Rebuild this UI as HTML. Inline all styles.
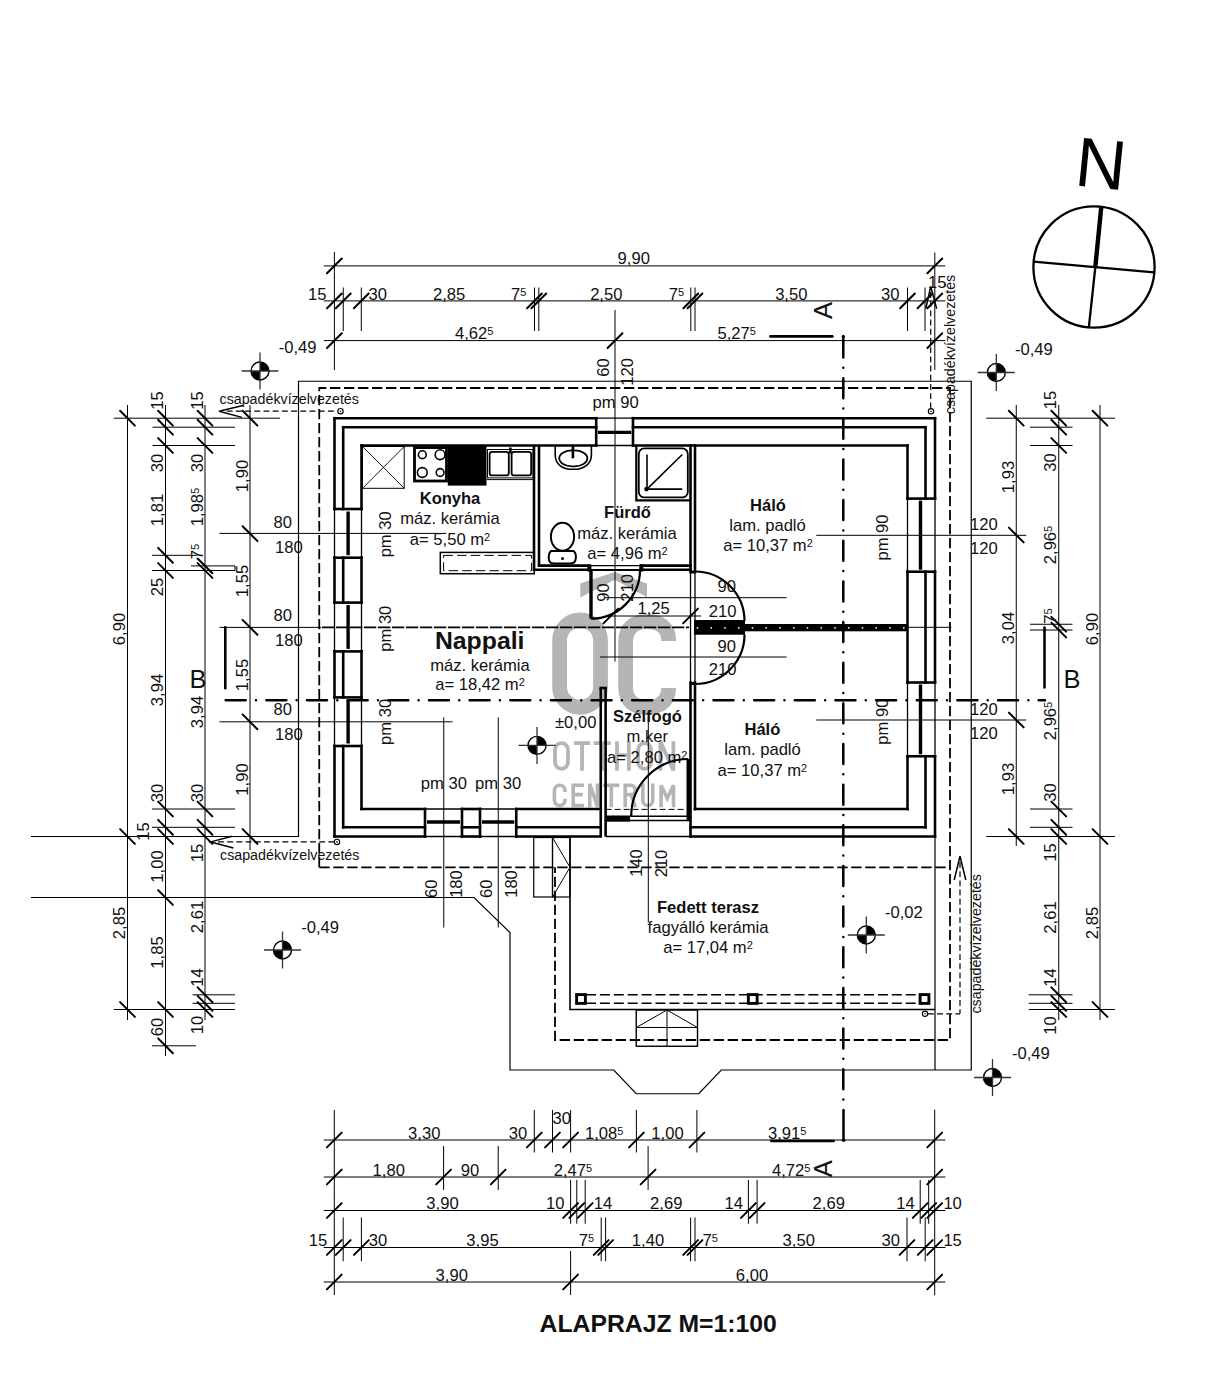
<!DOCTYPE html><html><head><meta charset="utf-8"><style>html,body{margin:0;padding:0;background:#fff;}svg{display:block;}text{font-family:"Liberation Sans",sans-serif;}</style></head><body>
<svg width="1228" height="1374" viewBox="0 0 1228 1374">
<rect x="0" y="0" width="1228" height="1374" fill="#fff"/>
<rect x="559.6" y="620.0" width="40.9" height="87.3" rx="20.4" ry="20.4" fill="none" stroke="#b5b5b5" stroke-width="14.8"/>
<path d="M 668.6 641 L 668.6 641 L 668.6 640 C 668.6 627 659 621.5 647 621.5 C 634 621.5 625.6 628 625.6 642 L 625.6 687 C 625.6 701 634 707.5 647 707.5 C 659 707.5 668.6 702 668.6 688" fill="none" stroke="#b5b5b5" stroke-width="14.8"/>
<polygon points="580.3,583.5 614.7,572.1 647,583.5 647,597.2 614.7,579.8 580.3,597.5" fill="#b5b5b5"/>
<path d="M 555.0 749.6999999999999 A 6.5 6.5 0 0 1 568.0 749.6999999999999 L 568.0 762.3000000000001 A 6.5 6.5 0 0 1 555.0 762.3000000000001 Z" fill="none" stroke="#b5b5b5" stroke-width="3.8" stroke-linejoin="miter"/>
<path d="M 573.9 743.1999999999999 L 590.2 743.1999999999999 M 582.05 743.1999999999999 L 582.05 770.7" fill="none" stroke="#b5b5b5" stroke-width="3.8" stroke-linejoin="miter"/>
<path d="M 593.6 743.1999999999999 L 610.7 743.1999999999999 M 602.1500000000001 743.1999999999999 L 602.1500000000001 770.7" fill="none" stroke="#b5b5b5" stroke-width="3.8" stroke-linejoin="miter"/>
<path d="M 617.0 741.3 L 617.0 770.7 M 628.9 741.3 L 628.9 770.7 M 617.0 755.118 L 628.9 755.118" fill="none" stroke="#b5b5b5" stroke-width="3.8" stroke-linejoin="miter"/>
<path d="M 638.1 749.6999999999999 A 6.5 6.5 0 0 1 651.1 749.6999999999999 L 651.1 762.3000000000001 A 6.5 6.5 0 0 1 638.1 762.3000000000001 Z" fill="none" stroke="#b5b5b5" stroke-width="3.8" stroke-linejoin="miter"/>
<path d="M 660.4 770.7 L 660.4 741.5999999999999 L 673.4 770.4000000000001 L 673.4 741.3" fill="none" stroke="#b5b5b5" stroke-width="3.8" stroke-linejoin="miter"/>
<path d="M 565.0 792.0 L 565.0 790.5 A 5.300000000000011 5.300000000000011 0 0 0 554.4 790.5 L 554.4 800.2 A 5.300000000000011 5.300000000000011 0 0 0 565.0 800.2 L 565.0 798.7" fill="none" stroke="#b5b5b5" stroke-width="3.6" stroke-linejoin="miter"/>
<path d="M 583.9 785.1999999999999 L 573.1999999999999 785.1999999999999 L 573.1999999999999 805.5 L 583.9 805.5 M 573.1999999999999 794.6329999999999 L 582.6999999999999 794.6329999999999" fill="none" stroke="#b5b5b5" stroke-width="3.6" stroke-linejoin="miter"/>
<path d="M 589.6999999999999 807.3 L 589.6999999999999 783.6999999999999 L 597.5 807.0 L 597.5 783.4" fill="none" stroke="#b5b5b5" stroke-width="3.6" stroke-linejoin="miter"/>
<path d="M 603.2 785.1999999999999 L 619.4 785.1999999999999 M 611.3 785.1999999999999 L 611.3 807.3" fill="none" stroke="#b5b5b5" stroke-width="3.6" stroke-linejoin="miter"/>
<path d="M 625.1999999999999 807.3 L 625.1999999999999 785.1999999999999 L 630.5835000000001 785.1999999999999 A 4.716499999999996 4.716499999999996 0 0 1 630.5835000000001 794.6329999999999 L 625.1999999999999 794.6329999999999 M 631.25 794.6329999999999 L 635.3000000000001 807.3" fill="none" stroke="#b5b5b5" stroke-width="3.6" stroke-linejoin="miter"/>
<path d="M 642.8 783.4 L 642.8 800.55 A 4.9500000000000455 4.9500000000000455 0 0 0 652.7 800.55 L 652.7 783.4" fill="none" stroke="#b5b5b5" stroke-width="3.6" stroke-linejoin="miter"/>
<path d="M 661.0999999999999 807.3 L 661.0999999999999 785.1999999999999 L 667.3 798.218 L 673.5 785.1999999999999 L 673.5 807.3" fill="none" stroke="#b5b5b5" stroke-width="3.6" stroke-linejoin="miter"/>
<polyline points="31.00,897.50 474.00,897.50 510.00,932.50 510.00,1070.00 613.75,1070.00 636.25,1093.75 698.75,1093.75 721.25,1070.00 971.25,1070.00 971.25,381.25 298.50,381.25 298.50,836.50 31.00,836.50" fill="none" stroke="#000" stroke-width="1.2" />
<polyline points="319.25,867.30 319.25,388.00 950.00,388.00 950.00,1040.00 555.00,1040.00 555.00,867.30" fill="none" stroke="#000" stroke-width="1.8" stroke-dasharray="10.4 3.6"/>
<line x1="319.25" y1="867.30" x2="950.00" y2="867.30" stroke="#000" stroke-width="1.8" stroke-dasharray="10.4 3.6"/>
<polyline points="570.00,837.50 570.00,1009.50 935.00,1009.50" fill="none" stroke="#000" stroke-width="1.6" />
<line x1="935.00" y1="836.50" x2="935.00" y2="1070.00" stroke="#000" stroke-width="1.2" />
<rect x="533.75" y="837.50" width="18.75" height="59.50" rx="0" fill="none" stroke="#000" stroke-width="1.2" />
<rect x="552.50" y="837.50" width="17.50" height="59.50" rx="0" fill="none" stroke="#000" stroke-width="1.2" />
<polyline points="552.50,837.50 570.00,867.30 552.50,897.00" fill="none" stroke="#000" stroke-width="1.0" />
<rect x="636.25" y="1010.00" width="61.25" height="36.25" rx="0" fill="none" stroke="#000" stroke-width="1.4" />
<line x1="636.25" y1="1027.50" x2="697.50" y2="1027.50" stroke="#000" stroke-width="1.2" />
<line x1="667.00" y1="1010.00" x2="667.00" y2="1046.25" stroke="#000" stroke-width="1.0" />
<polyline points="636.25,1027.50 667.00,1010.00 697.50,1027.50" fill="none" stroke="#000" stroke-width="1.0" />
<rect x="576.60" y="994.60" width="8.80" height="8.80" rx="0" fill="none" stroke="#000" stroke-width="2.9" />
<rect x="748.35" y="994.60" width="8.80" height="8.80" rx="0" fill="none" stroke="#000" stroke-width="2.9" />
<rect x="920.10" y="994.60" width="8.80" height="8.80" rx="0" fill="none" stroke="#000" stroke-width="2.9" />
<line x1="586.00" y1="994.80" x2="919.50" y2="994.80" stroke="#000" stroke-width="1.6" stroke-dasharray="10 3.9"/>
<line x1="586.00" y1="1003.20" x2="919.50" y2="1003.20" stroke="#000" stroke-width="1.6" stroke-dasharray="10 3.9"/>
<line x1="334.50" y1="418.20" x2="334.50" y2="509.00" stroke="#000" stroke-width="2.6" stroke-linecap="square"/>
<line x1="334.50" y1="557.70" x2="334.50" y2="602.60" stroke="#000" stroke-width="2.6" stroke-linecap="square"/>
<line x1="334.50" y1="651.40" x2="334.50" y2="697.40" stroke="#000" stroke-width="2.6" stroke-linecap="square"/>
<line x1="334.50" y1="746.00" x2="334.50" y2="836.50" stroke="#000" stroke-width="2.6" stroke-linecap="square"/>
<line x1="343.20" y1="427.20" x2="343.20" y2="509.00" stroke="#000" stroke-width="2.6" stroke-linecap="square"/>
<line x1="343.20" y1="557.70" x2="343.20" y2="602.60" stroke="#000" stroke-width="2.6" stroke-linecap="square"/>
<line x1="343.20" y1="651.40" x2="343.20" y2="697.40" stroke="#000" stroke-width="2.6" stroke-linecap="square"/>
<line x1="343.20" y1="746.00" x2="343.20" y2="827.30" stroke="#000" stroke-width="2.6" stroke-linecap="square"/>
<line x1="361.50" y1="445.50" x2="361.50" y2="509.00" stroke="#000" stroke-width="2.6" stroke-linecap="square"/>
<line x1="361.50" y1="557.70" x2="361.50" y2="602.60" stroke="#000" stroke-width="2.6" stroke-linecap="square"/>
<line x1="361.50" y1="651.40" x2="361.50" y2="697.40" stroke="#000" stroke-width="2.6" stroke-linecap="square"/>
<line x1="361.50" y1="746.00" x2="361.50" y2="809.00" stroke="#000" stroke-width="2.6" stroke-linecap="square"/>
<line x1="334.50" y1="509.00" x2="334.50" y2="557.70" stroke="#000" stroke-width="1.3" />
<line x1="361.50" y1="509.00" x2="361.50" y2="557.70" stroke="#000" stroke-width="1.3" />
<line x1="348.10" y1="511.50" x2="348.10" y2="555.20" stroke="#000" stroke-width="3.4" />
<line x1="334.50" y1="602.60" x2="334.50" y2="651.40" stroke="#000" stroke-width="1.3" />
<line x1="361.50" y1="602.60" x2="361.50" y2="651.40" stroke="#000" stroke-width="1.3" />
<line x1="348.10" y1="605.10" x2="348.10" y2="648.90" stroke="#000" stroke-width="3.4" />
<line x1="334.50" y1="697.40" x2="334.50" y2="746.00" stroke="#000" stroke-width="1.3" />
<line x1="361.50" y1="697.40" x2="361.50" y2="746.00" stroke="#000" stroke-width="1.3" />
<line x1="348.10" y1="699.90" x2="348.10" y2="743.50" stroke="#000" stroke-width="3.4" />
<line x1="334.50" y1="509.00" x2="361.50" y2="509.00" stroke="#000" stroke-width="2.6" stroke-linecap="square"/>
<line x1="334.50" y1="557.70" x2="361.50" y2="557.70" stroke="#000" stroke-width="2.6" stroke-linecap="square"/>
<line x1="334.50" y1="602.60" x2="361.50" y2="602.60" stroke="#000" stroke-width="2.6" stroke-linecap="square"/>
<line x1="334.50" y1="651.40" x2="361.50" y2="651.40" stroke="#000" stroke-width="2.6" stroke-linecap="square"/>
<line x1="334.50" y1="697.40" x2="361.50" y2="697.40" stroke="#000" stroke-width="2.6" stroke-linecap="square"/>
<line x1="334.50" y1="746.00" x2="361.50" y2="746.00" stroke="#000" stroke-width="2.6" stroke-linecap="square"/>
<line x1="334.50" y1="418.20" x2="596.20" y2="418.20" stroke="#000" stroke-width="2.6" stroke-linecap="square"/>
<line x1="633.00" y1="418.20" x2="935.00" y2="418.20" stroke="#000" stroke-width="2.6" stroke-linecap="square"/>
<line x1="343.20" y1="427.20" x2="596.20" y2="427.20" stroke="#000" stroke-width="2.6" stroke-linecap="square"/>
<line x1="633.00" y1="427.20" x2="925.50" y2="427.20" stroke="#000" stroke-width="2.6" stroke-linecap="square"/>
<line x1="361.50" y1="445.50" x2="596.20" y2="445.50" stroke="#000" stroke-width="2.6" stroke-linecap="square"/>
<line x1="633.00" y1="445.50" x2="907.50" y2="445.50" stroke="#000" stroke-width="2.6" stroke-linecap="square"/>
<line x1="596.20" y1="418.20" x2="633.00" y2="418.20" stroke="#000" stroke-width="1.3" />
<line x1="596.20" y1="445.50" x2="633.00" y2="445.50" stroke="#000" stroke-width="1.3" />
<line x1="598.00" y1="432.40" x2="631.30" y2="432.40" stroke="#000" stroke-width="3.4" />
<line x1="596.20" y1="418.20" x2="596.20" y2="445.50" stroke="#000" stroke-width="2.6" stroke-linecap="square"/>
<line x1="633.00" y1="418.20" x2="633.00" y2="445.50" stroke="#000" stroke-width="2.6" stroke-linecap="square"/>
<line x1="935.00" y1="418.20" x2="935.00" y2="498.60" stroke="#000" stroke-width="2.6" stroke-linecap="square"/>
<line x1="935.00" y1="571.70" x2="935.00" y2="682.50" stroke="#000" stroke-width="2.6" stroke-linecap="square"/>
<line x1="935.00" y1="756.25" x2="935.00" y2="836.50" stroke="#000" stroke-width="2.6" stroke-linecap="square"/>
<line x1="925.50" y1="427.20" x2="925.50" y2="498.60" stroke="#000" stroke-width="2.6" stroke-linecap="square"/>
<line x1="925.50" y1="571.70" x2="925.50" y2="682.50" stroke="#000" stroke-width="2.6" stroke-linecap="square"/>
<line x1="925.50" y1="756.25" x2="925.50" y2="827.30" stroke="#000" stroke-width="2.6" stroke-linecap="square"/>
<line x1="907.50" y1="445.50" x2="907.50" y2="498.60" stroke="#000" stroke-width="2.6" stroke-linecap="square"/>
<line x1="907.50" y1="571.70" x2="907.50" y2="682.50" stroke="#000" stroke-width="2.6" stroke-linecap="square"/>
<line x1="907.50" y1="756.25" x2="907.50" y2="809.00" stroke="#000" stroke-width="2.6" stroke-linecap="square"/>
<line x1="935.00" y1="498.60" x2="935.00" y2="571.70" stroke="#000" stroke-width="1.3" />
<line x1="907.50" y1="498.60" x2="907.50" y2="571.70" stroke="#000" stroke-width="1.3" />
<line x1="920.50" y1="500.60" x2="920.50" y2="569.70" stroke="#000" stroke-width="3.4" />
<line x1="935.00" y1="682.50" x2="935.00" y2="756.25" stroke="#000" stroke-width="1.3" />
<line x1="907.50" y1="682.50" x2="907.50" y2="756.25" stroke="#000" stroke-width="1.3" />
<line x1="920.50" y1="684.50" x2="920.50" y2="754.25" stroke="#000" stroke-width="3.4" />
<line x1="907.50" y1="498.60" x2="935.00" y2="498.60" stroke="#000" stroke-width="2.6" stroke-linecap="square"/>
<line x1="907.50" y1="571.70" x2="935.00" y2="571.70" stroke="#000" stroke-width="2.6" stroke-linecap="square"/>
<line x1="907.50" y1="682.50" x2="935.00" y2="682.50" stroke="#000" stroke-width="2.6" stroke-linecap="square"/>
<line x1="907.50" y1="756.25" x2="935.00" y2="756.25" stroke="#000" stroke-width="2.6" stroke-linecap="square"/>
<line x1="334.50" y1="836.50" x2="425.00" y2="836.50" stroke="#000" stroke-width="2.6" stroke-linecap="square"/>
<line x1="462.00" y1="836.50" x2="480.00" y2="836.50" stroke="#000" stroke-width="2.6" stroke-linecap="square"/>
<line x1="516.25" y1="836.50" x2="600.75" y2="836.50" stroke="#000" stroke-width="2.6" stroke-linecap="square"/>
<line x1="690.50" y1="836.50" x2="935.00" y2="836.50" stroke="#000" stroke-width="2.6" stroke-linecap="square"/>
<line x1="343.20" y1="827.30" x2="425.00" y2="827.30" stroke="#000" stroke-width="2.6" stroke-linecap="square"/>
<line x1="462.00" y1="827.30" x2="480.00" y2="827.30" stroke="#000" stroke-width="2.6" stroke-linecap="square"/>
<line x1="516.25" y1="827.30" x2="600.75" y2="827.30" stroke="#000" stroke-width="2.6" stroke-linecap="square"/>
<line x1="690.50" y1="827.30" x2="925.50" y2="827.30" stroke="#000" stroke-width="2.6" stroke-linecap="square"/>
<line x1="361.50" y1="809.00" x2="425.00" y2="809.00" stroke="#000" stroke-width="2.6" stroke-linecap="square"/>
<line x1="462.00" y1="809.00" x2="480.00" y2="809.00" stroke="#000" stroke-width="2.6" stroke-linecap="square"/>
<line x1="516.25" y1="809.00" x2="600.75" y2="809.00" stroke="#000" stroke-width="2.6" stroke-linecap="square"/>
<line x1="695.00" y1="809.00" x2="907.50" y2="809.00" stroke="#000" stroke-width="2.6" stroke-linecap="square"/>
<line x1="425.00" y1="836.50" x2="462.00" y2="836.50" stroke="#000" stroke-width="1.3" />
<line x1="425.00" y1="809.00" x2="462.00" y2="809.00" stroke="#000" stroke-width="1.3" />
<line x1="427.00" y1="822.00" x2="460.00" y2="822.00" stroke="#000" stroke-width="3.4" />
<line x1="480.00" y1="836.50" x2="516.25" y2="836.50" stroke="#000" stroke-width="1.3" />
<line x1="480.00" y1="809.00" x2="516.25" y2="809.00" stroke="#000" stroke-width="1.3" />
<line x1="482.00" y1="822.00" x2="514.25" y2="822.00" stroke="#000" stroke-width="3.4" />
<line x1="425.00" y1="809.00" x2="425.00" y2="836.50" stroke="#000" stroke-width="2.6" stroke-linecap="square"/>
<line x1="462.00" y1="809.00" x2="462.00" y2="836.50" stroke="#000" stroke-width="2.6" stroke-linecap="square"/>
<line x1="480.00" y1="809.00" x2="480.00" y2="836.50" stroke="#000" stroke-width="2.6" stroke-linecap="square"/>
<line x1="516.25" y1="809.00" x2="516.25" y2="836.50" stroke="#000" stroke-width="2.6" stroke-linecap="square"/>
<line x1="600.75" y1="688.00" x2="600.75" y2="836.50" stroke="#000" stroke-width="2.6" />
<line x1="605.60" y1="688.00" x2="605.60" y2="836.50" stroke="#000" stroke-width="2.6" />
<line x1="600.75" y1="688.00" x2="605.60" y2="688.00" stroke="#000" stroke-width="2.6" stroke-linecap="square"/>
<line x1="605.60" y1="809.40" x2="690.70" y2="809.40" stroke="#000" stroke-width="1.0" stroke-dasharray="6 3"/>
<line x1="605.60" y1="816.20" x2="686.80" y2="816.20" stroke="#000" stroke-width="1.5" />
<line x1="605.60" y1="820.60" x2="689.70" y2="820.60" stroke="#000" stroke-width="1.5" />
<rect x="606.60" y="816.20" width="23.40" height="5.40" rx="0" fill="#000" stroke="#000" stroke-width="0" />
<line x1="605.60" y1="836.50" x2="690.70" y2="836.50" stroke="#000" stroke-width="1.3" />
<line x1="688.20" y1="759.00" x2="688.20" y2="821.00" stroke="#000" stroke-width="3.4" />
<path d="M 688.2 759 A 57 57 0 0 0 631.2 816" fill="none" stroke="#000" stroke-width="2.2"/>
<line x1="534.00" y1="445.50" x2="534.00" y2="569.70" stroke="#000" stroke-width="2.6" />
<line x1="539.00" y1="445.50" x2="539.00" y2="565.60" stroke="#000" stroke-width="2.6" />
<line x1="539.00" y1="565.60" x2="588.50" y2="565.60" stroke="#000" stroke-width="2.6" stroke-linecap="square"/>
<line x1="641.00" y1="565.60" x2="690.50" y2="565.60" stroke="#000" stroke-width="2.6" stroke-linecap="square"/>
<line x1="534.00" y1="569.70" x2="588.50" y2="569.70" stroke="#000" stroke-width="2.6" stroke-linecap="square"/>
<line x1="641.00" y1="569.70" x2="690.50" y2="569.70" stroke="#000" stroke-width="2.6" stroke-linecap="square"/>
<line x1="588.50" y1="565.60" x2="641.00" y2="565.60" stroke="#000" stroke-width="1.3" />
<line x1="588.50" y1="569.90" x2="641.00" y2="569.90" stroke="#000" stroke-width="2.0" />
<line x1="589.40" y1="564.40" x2="589.40" y2="571.60" stroke="#000" stroke-width="4.0" />
<line x1="641.30" y1="564.40" x2="641.30" y2="571.60" stroke="#000" stroke-width="4.0" />
<line x1="591.00" y1="570.40" x2="591.00" y2="618.60" stroke="#000" stroke-width="3.4" />
<path d="M 591 618.7 A 49 49 0 0 0 640 569.7" fill="none" stroke="#000" stroke-width="2.2"/>
<line x1="690.50" y1="445.50" x2="690.50" y2="572.00" stroke="#000" stroke-width="2.6" stroke-linecap="square"/>
<line x1="690.50" y1="682.50" x2="690.50" y2="836.50" stroke="#000" stroke-width="2.6" stroke-linecap="square"/>
<line x1="695.00" y1="445.50" x2="695.00" y2="572.00" stroke="#000" stroke-width="2.6" stroke-linecap="square"/>
<line x1="695.00" y1="682.50" x2="695.00" y2="809.00" stroke="#000" stroke-width="2.6" stroke-linecap="square"/>
<line x1="690.50" y1="572.00" x2="690.50" y2="682.50" stroke="#000" stroke-width="1.3" />
<line x1="695.00" y1="572.00" x2="695.00" y2="682.50" stroke="#000" stroke-width="1.3" />
<line x1="690.50" y1="572.00" x2="695.00" y2="572.00" stroke="#000" stroke-width="3" />
<line x1="690.50" y1="683.50" x2="695.00" y2="683.50" stroke="#000" stroke-width="3" />
<rect x="694.00" y="620.00" width="51.00" height="14.70" rx="0" fill="#000" stroke="#000" stroke-width="0" />
<rect x="694.00" y="624.00" width="213.50" height="7.30" rx="0" fill="#000" stroke="#000" stroke-width="0" />
<circle cx="697.5" cy="627.8" r="0.9" fill="#fff"/>
<circle cx="711.2" cy="627.8" r="0.9" fill="#fff"/>
<circle cx="725.0" cy="627.8" r="0.9" fill="#fff"/>
<circle cx="738.8" cy="627.8" r="0.9" fill="#fff"/>
<circle cx="752.5" cy="627.8" r="0.9" fill="#fff"/>
<circle cx="766.2" cy="627.8" r="0.9" fill="#fff"/>
<circle cx="780.0" cy="627.8" r="0.9" fill="#fff"/>
<circle cx="793.8" cy="627.8" r="0.9" fill="#fff"/>
<circle cx="807.5" cy="627.8" r="0.9" fill="#fff"/>
<circle cx="821.2" cy="627.8" r="0.9" fill="#fff"/>
<circle cx="835.0" cy="627.8" r="0.9" fill="#fff"/>
<circle cx="848.8" cy="627.8" r="0.9" fill="#fff"/>
<circle cx="862.5" cy="627.8" r="0.9" fill="#fff"/>
<circle cx="876.2" cy="627.8" r="0.9" fill="#fff"/>
<circle cx="890.0" cy="627.8" r="0.9" fill="#fff"/>
<circle cx="903.8" cy="627.8" r="0.9" fill="#fff"/>
<path d="M 695 571.5 A 49.5 49.5 0 0 1 744.5 621" fill="none" stroke="#000" stroke-width="2.2"/>
<path d="M 744.5 634.5 A 49.5 49.5 0 0 1 695 684" fill="none" stroke="#000" stroke-width="2.2"/>
<rect x="362.50" y="446.50" width="41.70" height="41.80" rx="0" fill="none" stroke="#000" stroke-width="1.0" />
<line x1="362.50" y1="446.50" x2="404.20" y2="488.30" stroke="#000" stroke-width="0.9" />
<line x1="404.20" y1="446.50" x2="362.50" y2="488.30" stroke="#000" stroke-width="0.9" />
<rect x="414.50" y="447.60" width="32.00" height="33.40" rx="0" fill="none" stroke="#000" stroke-width="2.8" />
<circle cx="422.3" cy="454.7" r="3.9" fill="none" stroke="#000" stroke-width="1.6"/>
<circle cx="440.1" cy="454.7" r="4.9" fill="none" stroke="#000" stroke-width="1.6"/>
<circle cx="422.3" cy="472.5" r="4.9" fill="none" stroke="#000" stroke-width="1.6"/>
<circle cx="440.1" cy="472.5" r="3.9" fill="none" stroke="#000" stroke-width="1.6"/>
<rect x="447.80" y="445.40" width="38.70" height="40.20" rx="0" fill="#000" stroke="#000" stroke-width="0" />
<rect x="487.50" y="449.50" width="45.50" height="28.40" rx="0" fill="none" stroke="#000" stroke-width="1.0" />
<rect x="489.60" y="451.80" width="19.20" height="23.60" rx="2.5" fill="none" stroke="#000" stroke-width="1.8" />
<rect x="511.60" y="451.80" width="19.60" height="23.60" rx="2.5" fill="none" stroke="#000" stroke-width="1.8" />
<line x1="510.40" y1="447.50" x2="510.40" y2="453.50" stroke="#000" stroke-width="2.6" />
<line x1="486.50" y1="479.60" x2="533.00" y2="479.60" stroke="#000" stroke-width="1.0" />
<rect x="440.30" y="552.40" width="94.00" height="21.30" rx="0" fill="none" stroke="#000" stroke-width="1.5" />
<rect x="443.6" y="555.4" width="88" height="15.3" fill="none" stroke="#000" stroke-width="1.0" stroke-dasharray="9.4 4.2"/>
<path d="M 555.2 446.2 L 555.2 455 C 555.2 464 562 469.3 573 469.3 C 584 469.3 591.4 464 591.4 455 L 591.4 446.2" fill="none" stroke="#000" stroke-width="1.6"/>
<rect x="559.2" y="450.4" width="28.2" height="15.9" rx="13" ry="8" fill="none" stroke="#000" stroke-width="1.8"/>
<line x1="572.90" y1="446.00" x2="572.90" y2="457.30" stroke="#000" stroke-width="2.6" stroke-linecap="round"/>
<polyline points="636.30,446.00 636.30,500.30 690.50,500.30" fill="none" stroke="#000" stroke-width="2.2" />
<rect x="638.80" y="448.40" width="49.00" height="49.00" rx="5.5" fill="none" stroke="#000" stroke-width="1.8" />
<line x1="647.00" y1="454.50" x2="647.00" y2="489.10" stroke="#000" stroke-width="1.6" />
<line x1="647.00" y1="489.10" x2="682.30" y2="489.10" stroke="#000" stroke-width="1.6" />
<line x1="647.00" y1="489.10" x2="682.30" y2="454.50" stroke="#000" stroke-width="1.6" />
<circle cx="646.5" cy="489.1" r="2.3" fill="#000"/>
<ellipse cx="562.5" cy="536.8" rx="11.6" ry="14.0" fill="none" stroke="#000" stroke-width="2.0"/>
<path d="M 551 551 L 573.5 551 C 576 553 576.5 556 575.5 560 C 575 562.5 573 563.4 570 563.4 L 554 563.4 C 551 563.4 549.5 562.5 549 560 C 548.3 556 548.8 553 551 551 Z" fill="#fff" stroke="#000" stroke-width="2.0"/>
<circle cx="562.5" cy="558.4" r="1.5" fill="#000"/>
<line x1="323.75" y1="265.90" x2="945.40" y2="265.90" stroke="#000" stroke-width="1.0" />
<line x1="327.00" y1="273.30" x2="341.80" y2="258.50" stroke="#000" stroke-width="2.0" stroke-linecap="round"/>
<line x1="927.40" y1="273.30" x2="942.20" y2="258.50" stroke="#000" stroke-width="2.0" stroke-linecap="round"/>
<line x1="334.40" y1="252.00" x2="334.40" y2="370.00" stroke="#000" stroke-width="1.0" />
<line x1="934.80" y1="252.50" x2="934.80" y2="370.00" stroke="#000" stroke-width="1.0" />
<line x1="323.75" y1="300.90" x2="945.40" y2="300.90" stroke="#000" stroke-width="1.0" />
<line x1="327.00" y1="308.30" x2="341.80" y2="293.50" stroke="#000" stroke-width="2.0" stroke-linecap="round"/>
<line x1="335.85" y1="308.30" x2="350.65" y2="293.50" stroke="#000" stroke-width="2.0" stroke-linecap="round"/>
<line x1="353.90" y1="308.30" x2="368.70" y2="293.50" stroke="#000" stroke-width="2.0" stroke-linecap="round"/>
<line x1="527.10" y1="308.30" x2="541.90" y2="293.50" stroke="#000" stroke-width="2.0" stroke-linecap="round"/>
<line x1="531.40" y1="308.30" x2="546.20" y2="293.50" stroke="#000" stroke-width="2.0" stroke-linecap="round"/>
<line x1="683.40" y1="308.30" x2="698.20" y2="293.50" stroke="#000" stroke-width="2.0" stroke-linecap="round"/>
<line x1="687.60" y1="308.30" x2="702.40" y2="293.50" stroke="#000" stroke-width="2.0" stroke-linecap="round"/>
<line x1="900.10" y1="308.30" x2="914.90" y2="293.50" stroke="#000" stroke-width="2.0" stroke-linecap="round"/>
<line x1="917.60" y1="308.30" x2="932.40" y2="293.50" stroke="#000" stroke-width="2.0" stroke-linecap="round"/>
<line x1="927.40" y1="308.30" x2="942.20" y2="293.50" stroke="#000" stroke-width="2.0" stroke-linecap="round"/>
<line x1="343.25" y1="287.50" x2="343.25" y2="331.00" stroke="#000" stroke-width="1.0" />
<line x1="361.30" y1="287.50" x2="361.30" y2="331.00" stroke="#000" stroke-width="1.0" />
<line x1="534.50" y1="287.50" x2="534.50" y2="331.00" stroke="#000" stroke-width="1.0" />
<line x1="538.80" y1="287.50" x2="538.80" y2="331.00" stroke="#000" stroke-width="1.0" />
<line x1="690.80" y1="287.50" x2="690.80" y2="331.00" stroke="#000" stroke-width="1.0" />
<line x1="695.00" y1="287.50" x2="695.00" y2="331.00" stroke="#000" stroke-width="1.0" />
<line x1="907.50" y1="287.50" x2="907.50" y2="331.00" stroke="#000" stroke-width="1.0" />
<line x1="925.00" y1="287.50" x2="925.00" y2="331.00" stroke="#000" stroke-width="1.0" />
<line x1="323.75" y1="340.60" x2="945.40" y2="340.60" stroke="#000" stroke-width="1.0" />
<line x1="327.00" y1="348.00" x2="341.80" y2="333.20" stroke="#000" stroke-width="2.0" stroke-linecap="round"/>
<line x1="607.60" y1="348.00" x2="622.40" y2="333.20" stroke="#000" stroke-width="2.0" stroke-linecap="round"/>
<line x1="927.40" y1="348.00" x2="942.20" y2="333.20" stroke="#000" stroke-width="2.0" stroke-linecap="round"/>
<line x1="615.00" y1="310.00" x2="615.00" y2="661.50" stroke="#000" stroke-width="1.0" />
<line x1="127.50" y1="405.00" x2="127.50" y2="1020.00" stroke="#000" stroke-width="1.0" />
<line x1="165.50" y1="405.00" x2="165.50" y2="1056.00" stroke="#000" stroke-width="1.0" />
<line x1="205.00" y1="405.00" x2="205.00" y2="1020.00" stroke="#000" stroke-width="1.0" />
<line x1="250.00" y1="405.00" x2="250.00" y2="850.00" stroke="#000" stroke-width="1.0" />
<line x1="120.10" y1="410.80" x2="134.90" y2="425.60" stroke="#000" stroke-width="2.0" stroke-linecap="round"/>
<line x1="120.10" y1="829.10" x2="134.90" y2="843.90" stroke="#000" stroke-width="2.0" stroke-linecap="round"/>
<line x1="120.10" y1="1002.10" x2="134.90" y2="1016.90" stroke="#000" stroke-width="2.0" stroke-linecap="round"/>
<line x1="158.10" y1="410.80" x2="172.90" y2="425.60" stroke="#000" stroke-width="2.0" stroke-linecap="round"/>
<line x1="158.10" y1="419.80" x2="172.90" y2="434.60" stroke="#000" stroke-width="2.0" stroke-linecap="round"/>
<line x1="158.10" y1="438.10" x2="172.90" y2="452.90" stroke="#000" stroke-width="2.0" stroke-linecap="round"/>
<line x1="158.10" y1="547.90" x2="172.90" y2="562.70" stroke="#000" stroke-width="2.0" stroke-linecap="round"/>
<line x1="158.10" y1="563.10" x2="172.90" y2="577.90" stroke="#000" stroke-width="2.0" stroke-linecap="round"/>
<line x1="158.10" y1="801.60" x2="172.90" y2="816.40" stroke="#000" stroke-width="2.0" stroke-linecap="round"/>
<line x1="158.10" y1="819.90" x2="172.90" y2="834.70" stroke="#000" stroke-width="2.0" stroke-linecap="round"/>
<line x1="158.10" y1="829.10" x2="172.90" y2="843.90" stroke="#000" stroke-width="2.0" stroke-linecap="round"/>
<line x1="158.10" y1="890.10" x2="172.90" y2="904.90" stroke="#000" stroke-width="2.0" stroke-linecap="round"/>
<line x1="158.10" y1="1002.10" x2="172.90" y2="1016.90" stroke="#000" stroke-width="2.0" stroke-linecap="round"/>
<line x1="158.10" y1="1038.40" x2="172.90" y2="1053.20" stroke="#000" stroke-width="2.0" stroke-linecap="round"/>
<line x1="197.60" y1="410.80" x2="212.40" y2="425.60" stroke="#000" stroke-width="2.0" stroke-linecap="round"/>
<line x1="197.60" y1="419.80" x2="212.40" y2="434.60" stroke="#000" stroke-width="2.0" stroke-linecap="round"/>
<line x1="197.60" y1="438.10" x2="212.40" y2="452.90" stroke="#000" stroke-width="2.0" stroke-linecap="round"/>
<line x1="197.60" y1="558.50" x2="212.40" y2="573.30" stroke="#000" stroke-width="2.0" stroke-linecap="round"/>
<line x1="197.60" y1="563.10" x2="212.40" y2="577.90" stroke="#000" stroke-width="2.0" stroke-linecap="round"/>
<line x1="197.60" y1="801.60" x2="212.40" y2="816.40" stroke="#000" stroke-width="2.0" stroke-linecap="round"/>
<line x1="197.60" y1="819.90" x2="212.40" y2="834.70" stroke="#000" stroke-width="2.0" stroke-linecap="round"/>
<line x1="197.60" y1="829.10" x2="212.40" y2="843.90" stroke="#000" stroke-width="2.0" stroke-linecap="round"/>
<line x1="197.60" y1="987.40" x2="212.40" y2="1002.20" stroke="#000" stroke-width="2.0" stroke-linecap="round"/>
<line x1="197.60" y1="995.90" x2="212.40" y2="1010.70" stroke="#000" stroke-width="2.0" stroke-linecap="round"/>
<line x1="197.60" y1="1002.10" x2="212.40" y2="1016.90" stroke="#000" stroke-width="2.0" stroke-linecap="round"/>
<line x1="242.60" y1="410.80" x2="257.40" y2="425.60" stroke="#000" stroke-width="2.0" stroke-linecap="round"/>
<line x1="242.60" y1="526.20" x2="257.40" y2="541.00" stroke="#000" stroke-width="2.0" stroke-linecap="round"/>
<line x1="242.60" y1="619.90" x2="257.40" y2="634.70" stroke="#000" stroke-width="2.0" stroke-linecap="round"/>
<line x1="242.60" y1="714.40" x2="257.40" y2="729.20" stroke="#000" stroke-width="2.0" stroke-linecap="round"/>
<line x1="242.60" y1="829.10" x2="257.40" y2="843.90" stroke="#000" stroke-width="2.0" stroke-linecap="round"/>
<line x1="113.75" y1="418.20" x2="280.00" y2="418.20" stroke="#000" stroke-width="1.0" />
<line x1="152.50" y1="427.20" x2="235.00" y2="427.20" stroke="#000" stroke-width="1.0" />
<line x1="152.50" y1="445.50" x2="235.00" y2="445.50" stroke="#000" stroke-width="1.0" />
<line x1="219.50" y1="533.40" x2="446.40" y2="533.40" stroke="#000" stroke-width="1.0" />
<line x1="152.00" y1="555.30" x2="197.50" y2="555.30" stroke="#000" stroke-width="1.0" />
<line x1="191.00" y1="565.90" x2="235.00" y2="565.90" stroke="#000" stroke-width="1.0" />
<line x1="235.00" y1="565.90" x2="235.00" y2="570.50" stroke="#000" stroke-width="1.0" />
<line x1="152.00" y1="570.50" x2="235.00" y2="570.50" stroke="#000" stroke-width="1.0" />
<line x1="219.50" y1="627.40" x2="321.00" y2="627.40" stroke="#000" stroke-width="1.0" />
<line x1="321.00" y1="627.40" x2="689.00" y2="627.40" stroke="#000" stroke-width="1.6" stroke-dasharray="12.4 1.6" stroke-dashoffset="13.1"/>
<line x1="219.50" y1="721.80" x2="452.50" y2="721.80" stroke="#000" stroke-width="1.0" />
<line x1="152.00" y1="809.00" x2="235.00" y2="809.00" stroke="#000" stroke-width="1.0" />
<line x1="152.00" y1="827.30" x2="235.00" y2="827.30" stroke="#000" stroke-width="1.0" />
<line x1="192.50" y1="994.80" x2="235.00" y2="994.80" stroke="#000" stroke-width="1.0" />
<line x1="192.50" y1="1003.30" x2="235.00" y2="1003.30" stroke="#000" stroke-width="1.0" />
<line x1="113.75" y1="1009.50" x2="235.00" y2="1009.50" stroke="#000" stroke-width="1.0" />
<line x1="152.00" y1="1045.80" x2="196.00" y2="1045.80" stroke="#000" stroke-width="1.0" />
<line x1="443.75" y1="717.50" x2="443.75" y2="927.50" stroke="#000" stroke-width="1.0" />
<line x1="498.25" y1="717.50" x2="498.25" y2="927.50" stroke="#000" stroke-width="1.0" />
<line x1="648.30" y1="717.00" x2="648.30" y2="922.50" stroke="#000" stroke-width="1.0" />
<line x1="1016.25" y1="405.00" x2="1016.25" y2="846.00" stroke="#000" stroke-width="1.0" />
<line x1="1058.75" y1="405.00" x2="1058.75" y2="1020.00" stroke="#000" stroke-width="1.0" />
<line x1="1100.00" y1="405.00" x2="1100.00" y2="1020.00" stroke="#000" stroke-width="1.0" />
<line x1="1008.85" y1="410.80" x2="1023.65" y2="425.60" stroke="#000" stroke-width="2.0" stroke-linecap="round"/>
<line x1="1008.85" y1="527.60" x2="1023.65" y2="542.40" stroke="#000" stroke-width="2.0" stroke-linecap="round"/>
<line x1="1008.85" y1="712.60" x2="1023.65" y2="727.40" stroke="#000" stroke-width="2.0" stroke-linecap="round"/>
<line x1="1008.85" y1="829.10" x2="1023.65" y2="843.90" stroke="#000" stroke-width="2.0" stroke-linecap="round"/>
<line x1="1051.35" y1="410.80" x2="1066.15" y2="425.60" stroke="#000" stroke-width="2.0" stroke-linecap="round"/>
<line x1="1051.35" y1="419.80" x2="1066.15" y2="434.60" stroke="#000" stroke-width="2.0" stroke-linecap="round"/>
<line x1="1051.35" y1="438.10" x2="1066.15" y2="452.90" stroke="#000" stroke-width="2.0" stroke-linecap="round"/>
<line x1="1051.35" y1="616.85" x2="1066.15" y2="631.65" stroke="#000" stroke-width="2.0" stroke-linecap="round"/>
<line x1="1051.35" y1="622.60" x2="1066.15" y2="637.40" stroke="#000" stroke-width="2.0" stroke-linecap="round"/>
<line x1="1051.35" y1="801.60" x2="1066.15" y2="816.40" stroke="#000" stroke-width="2.0" stroke-linecap="round"/>
<line x1="1051.35" y1="819.90" x2="1066.15" y2="834.70" stroke="#000" stroke-width="2.0" stroke-linecap="round"/>
<line x1="1051.35" y1="829.10" x2="1066.15" y2="843.90" stroke="#000" stroke-width="2.0" stroke-linecap="round"/>
<line x1="1051.35" y1="987.40" x2="1066.15" y2="1002.20" stroke="#000" stroke-width="2.0" stroke-linecap="round"/>
<line x1="1051.35" y1="995.90" x2="1066.15" y2="1010.70" stroke="#000" stroke-width="2.0" stroke-linecap="round"/>
<line x1="1051.35" y1="1002.10" x2="1066.15" y2="1016.90" stroke="#000" stroke-width="2.0" stroke-linecap="round"/>
<line x1="1092.60" y1="410.80" x2="1107.40" y2="425.60" stroke="#000" stroke-width="2.0" stroke-linecap="round"/>
<line x1="1092.60" y1="829.10" x2="1107.40" y2="843.90" stroke="#000" stroke-width="2.0" stroke-linecap="round"/>
<line x1="1092.60" y1="1002.10" x2="1107.40" y2="1016.90" stroke="#000" stroke-width="2.0" stroke-linecap="round"/>
<line x1="986.25" y1="418.20" x2="1115.00" y2="418.20" stroke="#000" stroke-width="1.0" />
<line x1="1030.00" y1="427.20" x2="1072.50" y2="427.20" stroke="#000" stroke-width="1.0" />
<line x1="1030.00" y1="445.50" x2="1072.50" y2="445.50" stroke="#000" stroke-width="1.0" />
<line x1="816.25" y1="535.30" x2="1026.25" y2="535.30" stroke="#000" stroke-width="1.0" />
<line x1="1030.00" y1="624.25" x2="1072.50" y2="624.25" stroke="#000" stroke-width="1.0" />
<line x1="1030.00" y1="630.00" x2="1072.50" y2="630.00" stroke="#000" stroke-width="1.0" />
<line x1="907.50" y1="627.30" x2="951.25" y2="627.30" stroke="#000" stroke-width="1.0" />
<line x1="816.25" y1="720.00" x2="1026.25" y2="720.00" stroke="#000" stroke-width="1.0" />
<line x1="1030.00" y1="809.00" x2="1072.50" y2="809.00" stroke="#000" stroke-width="1.0" />
<line x1="1030.00" y1="827.30" x2="1072.50" y2="827.30" stroke="#000" stroke-width="1.0" />
<line x1="986.25" y1="836.50" x2="1115.00" y2="836.50" stroke="#000" stroke-width="1.0" />
<line x1="1028.75" y1="994.80" x2="1072.50" y2="994.80" stroke="#000" stroke-width="1.0" />
<line x1="1028.75" y1="1003.30" x2="1072.50" y2="1003.30" stroke="#000" stroke-width="1.0" />
<line x1="1028.75" y1="1009.50" x2="1115.00" y2="1009.50" stroke="#000" stroke-width="1.0" />
<line x1="605.00" y1="597.70" x2="786.50" y2="597.70" stroke="#000" stroke-width="1.0" />
<line x1="607.00" y1="616.00" x2="701.00" y2="616.00" stroke="#000" stroke-width="1.0" />
<line x1="603.40" y1="623.40" x2="618.20" y2="608.60" stroke="#000" stroke-width="2.0" stroke-linecap="round"/>
<line x1="683.10" y1="623.40" x2="697.90" y2="608.60" stroke="#000" stroke-width="2.0" stroke-linecap="round"/>
<line x1="600.00" y1="657.00" x2="786.50" y2="657.00" stroke="#000" stroke-width="1.0" />
<line x1="323.75" y1="1140.00" x2="945.40" y2="1140.00" stroke="#000" stroke-width="1.0" />
<line x1="323.75" y1="1177.00" x2="945.40" y2="1177.00" stroke="#000" stroke-width="1.0" />
<line x1="323.75" y1="1210.50" x2="945.40" y2="1210.50" stroke="#000" stroke-width="1.0" />
<line x1="323.75" y1="1247.50" x2="945.40" y2="1247.50" stroke="#000" stroke-width="1.0" />
<line x1="323.75" y1="1282.00" x2="945.40" y2="1282.00" stroke="#000" stroke-width="1.0" />
<line x1="334.30" y1="1110.00" x2="334.30" y2="1295.00" stroke="#000" stroke-width="1.0" />
<line x1="934.70" y1="1109.60" x2="934.70" y2="1295.30" stroke="#000" stroke-width="1.0" />
<line x1="326.90" y1="1147.40" x2="341.70" y2="1132.60" stroke="#000" stroke-width="2.0" stroke-linecap="round"/>
<line x1="927.30" y1="1147.40" x2="942.10" y2="1132.60" stroke="#000" stroke-width="2.0" stroke-linecap="round"/>
<line x1="326.90" y1="1184.40" x2="341.70" y2="1169.60" stroke="#000" stroke-width="2.0" stroke-linecap="round"/>
<line x1="927.30" y1="1184.40" x2="942.10" y2="1169.60" stroke="#000" stroke-width="2.0" stroke-linecap="round"/>
<line x1="326.90" y1="1217.90" x2="341.70" y2="1203.10" stroke="#000" stroke-width="2.0" stroke-linecap="round"/>
<line x1="927.30" y1="1217.90" x2="942.10" y2="1203.10" stroke="#000" stroke-width="2.0" stroke-linecap="round"/>
<line x1="326.90" y1="1254.90" x2="341.70" y2="1240.10" stroke="#000" stroke-width="2.0" stroke-linecap="round"/>
<line x1="927.30" y1="1254.90" x2="942.10" y2="1240.10" stroke="#000" stroke-width="2.0" stroke-linecap="round"/>
<line x1="326.90" y1="1289.40" x2="341.70" y2="1274.60" stroke="#000" stroke-width="2.0" stroke-linecap="round"/>
<line x1="927.30" y1="1289.40" x2="942.10" y2="1274.60" stroke="#000" stroke-width="2.0" stroke-linecap="round"/>
<line x1="526.90" y1="1147.40" x2="541.70" y2="1132.60" stroke="#000" stroke-width="2.0" stroke-linecap="round"/>
<line x1="534.30" y1="1110.00" x2="534.30" y2="1152.50" stroke="#000" stroke-width="1.0" />
<line x1="545.10" y1="1147.40" x2="559.90" y2="1132.60" stroke="#000" stroke-width="2.0" stroke-linecap="round"/>
<line x1="552.50" y1="1110.00" x2="552.50" y2="1152.50" stroke="#000" stroke-width="1.0" />
<line x1="563.20" y1="1147.40" x2="578.00" y2="1132.60" stroke="#000" stroke-width="2.0" stroke-linecap="round"/>
<line x1="570.60" y1="1110.00" x2="570.60" y2="1152.50" stroke="#000" stroke-width="1.0" />
<line x1="629.00" y1="1147.40" x2="643.80" y2="1132.60" stroke="#000" stroke-width="2.0" stroke-linecap="round"/>
<line x1="636.40" y1="1110.00" x2="636.40" y2="1152.50" stroke="#000" stroke-width="1.0" />
<line x1="689.50" y1="1147.40" x2="704.30" y2="1132.60" stroke="#000" stroke-width="2.0" stroke-linecap="round"/>
<line x1="696.90" y1="1110.00" x2="696.90" y2="1152.50" stroke="#000" stroke-width="1.0" />
<line x1="436.20" y1="1184.40" x2="451.00" y2="1169.60" stroke="#000" stroke-width="2.0" stroke-linecap="round"/>
<line x1="443.60" y1="1146.00" x2="443.60" y2="1190.00" stroke="#000" stroke-width="1.0" />
<line x1="490.80" y1="1184.40" x2="505.60" y2="1169.60" stroke="#000" stroke-width="2.0" stroke-linecap="round"/>
<line x1="498.20" y1="1146.00" x2="498.20" y2="1190.00" stroke="#000" stroke-width="1.0" />
<line x1="640.70" y1="1184.40" x2="655.50" y2="1169.60" stroke="#000" stroke-width="2.0" stroke-linecap="round"/>
<line x1="648.10" y1="1146.00" x2="648.10" y2="1190.00" stroke="#000" stroke-width="1.0" />
<line x1="563.20" y1="1217.90" x2="578.00" y2="1203.10" stroke="#000" stroke-width="2.0" stroke-linecap="round"/>
<line x1="570.60" y1="1180.00" x2="570.60" y2="1223.75" stroke="#000" stroke-width="1.0" />
<line x1="569.40" y1="1217.90" x2="584.20" y2="1203.10" stroke="#000" stroke-width="2.0" stroke-linecap="round"/>
<line x1="576.80" y1="1180.00" x2="576.80" y2="1223.75" stroke="#000" stroke-width="1.0" />
<line x1="577.80" y1="1217.90" x2="592.60" y2="1203.10" stroke="#000" stroke-width="2.0" stroke-linecap="round"/>
<line x1="585.20" y1="1180.00" x2="585.20" y2="1223.75" stroke="#000" stroke-width="1.0" />
<line x1="741.00" y1="1217.90" x2="755.80" y2="1203.10" stroke="#000" stroke-width="2.0" stroke-linecap="round"/>
<line x1="748.40" y1="1180.00" x2="748.40" y2="1223.75" stroke="#000" stroke-width="1.0" />
<line x1="749.70" y1="1217.90" x2="764.50" y2="1203.10" stroke="#000" stroke-width="2.0" stroke-linecap="round"/>
<line x1="757.10" y1="1180.00" x2="757.10" y2="1223.75" stroke="#000" stroke-width="1.0" />
<line x1="912.80" y1="1217.90" x2="927.60" y2="1203.10" stroke="#000" stroke-width="2.0" stroke-linecap="round"/>
<line x1="920.20" y1="1180.00" x2="920.20" y2="1223.75" stroke="#000" stroke-width="1.0" />
<line x1="921.30" y1="1217.90" x2="936.10" y2="1203.10" stroke="#000" stroke-width="2.0" stroke-linecap="round"/>
<line x1="928.70" y1="1180.00" x2="928.70" y2="1223.75" stroke="#000" stroke-width="1.0" />
<line x1="335.80" y1="1254.90" x2="350.60" y2="1240.10" stroke="#000" stroke-width="2.0" stroke-linecap="round"/>
<line x1="343.20" y1="1217.50" x2="343.20" y2="1261.25" stroke="#000" stroke-width="1.0" />
<line x1="354.00" y1="1254.90" x2="368.80" y2="1240.10" stroke="#000" stroke-width="2.0" stroke-linecap="round"/>
<line x1="361.40" y1="1217.50" x2="361.40" y2="1261.25" stroke="#000" stroke-width="1.0" />
<line x1="593.80" y1="1254.90" x2="608.60" y2="1240.10" stroke="#000" stroke-width="2.0" stroke-linecap="round"/>
<line x1="601.20" y1="1217.50" x2="601.20" y2="1261.25" stroke="#000" stroke-width="1.0" />
<line x1="598.20" y1="1254.90" x2="613.00" y2="1240.10" stroke="#000" stroke-width="2.0" stroke-linecap="round"/>
<line x1="605.60" y1="1217.50" x2="605.60" y2="1261.25" stroke="#000" stroke-width="1.0" />
<line x1="683.20" y1="1254.90" x2="698.00" y2="1240.10" stroke="#000" stroke-width="2.0" stroke-linecap="round"/>
<line x1="690.60" y1="1217.50" x2="690.60" y2="1261.25" stroke="#000" stroke-width="1.0" />
<line x1="687.60" y1="1254.90" x2="702.40" y2="1240.10" stroke="#000" stroke-width="2.0" stroke-linecap="round"/>
<line x1="695.00" y1="1217.50" x2="695.00" y2="1261.25" stroke="#000" stroke-width="1.0" />
<line x1="899.60" y1="1254.90" x2="914.40" y2="1240.10" stroke="#000" stroke-width="2.0" stroke-linecap="round"/>
<line x1="907.00" y1="1217.50" x2="907.00" y2="1261.25" stroke="#000" stroke-width="1.0" />
<line x1="917.80" y1="1254.90" x2="932.60" y2="1240.10" stroke="#000" stroke-width="2.0" stroke-linecap="round"/>
<line x1="925.20" y1="1217.50" x2="925.20" y2="1261.25" stroke="#000" stroke-width="1.0" />
<line x1="563.20" y1="1289.40" x2="578.00" y2="1274.60" stroke="#000" stroke-width="2.0" stroke-linecap="round"/>
<line x1="570.60" y1="1251.00" x2="570.60" y2="1295.00" stroke="#000" stroke-width="1.0" />
<text x="633.75" y="264.20" font-size="16.6" font-weight="normal" text-anchor="middle" fill="#111" >9,90</text>
<text x="326.50" y="299.60" font-size="16.6" font-weight="normal" text-anchor="end" fill="#111" >15</text>
<text x="368.60" y="299.60" font-size="16.6" font-weight="normal" text-anchor="start" fill="#111" >30</text>
<text x="449.10" y="299.60" font-size="16.6" font-weight="normal" text-anchor="middle" fill="#111" >2,85</text>
<text x="511.00" y="299.60" font-size="16.6" font-weight="normal" text-anchor="start" fill="#111" >7<tspan font-size="11" dy="-4.0">5</tspan></text>
<text x="606.30" y="299.60" font-size="16.6" font-weight="normal" text-anchor="middle" fill="#111" >2,50</text>
<text x="668.70" y="299.60" font-size="16.6" font-weight="normal" text-anchor="start" fill="#111" >7<tspan font-size="11" dy="-4.0">5</tspan></text>
<text x="791.30" y="299.60" font-size="16.6" font-weight="normal" text-anchor="middle" fill="#111" >3,50</text>
<text x="881.00" y="299.60" font-size="16.6" font-weight="normal" text-anchor="start" fill="#111" >30</text>
<text x="928.00" y="287.60" font-size="16.6" font-weight="normal" text-anchor="start" fill="#111" >15</text>
<text x="455.00" y="339.20" font-size="16.6" font-weight="normal" text-anchor="start" fill="#111" >4,62<tspan font-size="11" dy="-4.0">5</tspan></text>
<text x="717.50" y="339.20" font-size="16.6" font-weight="normal" text-anchor="start" fill="#111" >5,27<tspan font-size="11" dy="-4.0">5</tspan></text>
<text x="278.70" y="352.50" font-size="16.6" font-weight="normal" text-anchor="start" fill="#111" >-0,49</text>
<text x="1015.00" y="354.50" font-size="16.6" font-weight="normal" text-anchor="start" fill="#111" >-0,49</text>
<text x="608.80" y="367.40" font-size="16.6" font-weight="normal" text-anchor="middle" fill="#111" transform="rotate(-90 608.80 367.40)" >60</text>
<text x="632.80" y="371.80" font-size="16.6" font-weight="normal" text-anchor="middle" fill="#111" transform="rotate(-90 632.80 371.80)" >120</text>
<text x="592.50" y="407.50" font-size="16.6" font-weight="normal" text-anchor="start" fill="#111" >pm 90</text>
<text x="125.10" y="629.00" font-size="16.6" font-weight="normal" text-anchor="middle" fill="#111" transform="rotate(-90 125.10 629.00)" >6,90</text>
<text x="125.10" y="923.00" font-size="16.6" font-weight="normal" text-anchor="middle" fill="#111" transform="rotate(-90 125.10 923.00)" >2,85</text>
<text x="163.10" y="400.50" font-size="16.6" font-weight="normal" text-anchor="middle" fill="#111" transform="rotate(-90 163.10 400.50)" >15</text>
<text x="163.10" y="463.00" font-size="16.6" font-weight="normal" text-anchor="middle" fill="#111" transform="rotate(-90 163.10 463.00)" >30</text>
<text x="163.10" y="510.00" font-size="16.6" font-weight="normal" text-anchor="middle" fill="#111" transform="rotate(-90 163.10 510.00)" >1,81</text>
<text x="163.10" y="587.00" font-size="16.6" font-weight="normal" text-anchor="middle" fill="#111" transform="rotate(-90 163.10 587.00)" >25</text>
<text x="163.10" y="690.00" font-size="16.6" font-weight="normal" text-anchor="middle" fill="#111" transform="rotate(-90 163.10 690.00)" >3,94</text>
<text x="163.10" y="793.00" font-size="16.6" font-weight="normal" text-anchor="middle" fill="#111" transform="rotate(-90 163.10 793.00)" >30</text>
<text x="163.10" y="866.50" font-size="16.6" font-weight="normal" text-anchor="middle" fill="#111" transform="rotate(-90 163.10 866.50)" >1,00</text>
<text x="163.10" y="952.50" font-size="16.6" font-weight="normal" text-anchor="middle" fill="#111" transform="rotate(-90 163.10 952.50)" >1,85</text>
<text x="163.10" y="1027.00" font-size="16.6" font-weight="normal" text-anchor="middle" fill="#111" transform="rotate(-90 163.10 1027.00)" >60</text>
<text x="148.50" y="831.50" font-size="16.6" font-weight="normal" text-anchor="middle" fill="#111" transform="rotate(-90 148.50 831.50)" >15</text>
<text x="202.60" y="400.50" font-size="16.6" font-weight="normal" text-anchor="middle" fill="#111" transform="rotate(-90 202.60 400.50)" >15</text>
<text x="202.60" y="463.00" font-size="16.6" font-weight="normal" text-anchor="middle" fill="#111" transform="rotate(-90 202.60 463.00)" >30</text>
<text x="202.60" y="507.00" font-size="16.6" font-weight="normal" text-anchor="middle" fill="#111" transform="rotate(-90 202.60 507.00)" >1,98<tspan font-size="11" dy="-4.0">5</tspan></text>
<text x="202.60" y="551.50" font-size="16.6" font-weight="normal" text-anchor="middle" fill="#111" transform="rotate(-90 202.60 551.50)" >7<tspan font-size="11" dy="-4.0">5</tspan></text>
<text x="202.60" y="712.00" font-size="16.6" font-weight="normal" text-anchor="middle" fill="#111" transform="rotate(-90 202.60 712.00)" >3,94</text>
<text x="202.60" y="793.00" font-size="16.6" font-weight="normal" text-anchor="middle" fill="#111" transform="rotate(-90 202.60 793.00)" >30</text>
<text x="202.60" y="853.00" font-size="16.6" font-weight="normal" text-anchor="middle" fill="#111" transform="rotate(-90 202.60 853.00)" >15</text>
<text x="202.60" y="917.00" font-size="16.6" font-weight="normal" text-anchor="middle" fill="#111" transform="rotate(-90 202.60 917.00)" >2,61</text>
<text x="202.60" y="977.50" font-size="16.6" font-weight="normal" text-anchor="middle" fill="#111" transform="rotate(-90 202.60 977.50)" >14</text>
<text x="202.60" y="1025.00" font-size="16.6" font-weight="normal" text-anchor="middle" fill="#111" transform="rotate(-90 202.60 1025.00)" >10</text>
<text x="247.70" y="476.00" font-size="16.6" font-weight="normal" text-anchor="middle" fill="#111" transform="rotate(-90 247.70 476.00)" >1,90</text>
<text x="247.70" y="581.00" font-size="16.6" font-weight="normal" text-anchor="middle" fill="#111" transform="rotate(-90 247.70 581.00)" >1,55</text>
<text x="247.70" y="675.00" font-size="16.6" font-weight="normal" text-anchor="middle" fill="#111" transform="rotate(-90 247.70 675.00)" >1,55</text>
<text x="247.70" y="779.50" font-size="16.6" font-weight="normal" text-anchor="middle" fill="#111" transform="rotate(-90 247.70 779.50)" >1,90</text>
<text x="273.50" y="527.50" font-size="16.6" font-weight="normal" text-anchor="start" fill="#111" >80</text>
<text x="273.50" y="621.00" font-size="16.6" font-weight="normal" text-anchor="start" fill="#111" >80</text>
<text x="273.50" y="715.00" font-size="16.6" font-weight="normal" text-anchor="start" fill="#111" >80</text>
<text x="275.00" y="552.50" font-size="16.6" font-weight="normal" text-anchor="start" fill="#111" >180</text>
<text x="275.00" y="646.00" font-size="16.6" font-weight="normal" text-anchor="start" fill="#111" >180</text>
<text x="275.00" y="740.00" font-size="16.6" font-weight="normal" text-anchor="start" fill="#111" >180</text>
<text x="1013.90" y="477.00" font-size="16.6" font-weight="normal" text-anchor="middle" fill="#111" transform="rotate(-90 1013.90 477.00)" >1,93</text>
<text x="1013.90" y="628.00" font-size="16.6" font-weight="normal" text-anchor="middle" fill="#111" transform="rotate(-90 1013.90 628.00)" >3,04</text>
<text x="1013.90" y="779.00" font-size="16.6" font-weight="normal" text-anchor="middle" fill="#111" transform="rotate(-90 1013.90 779.00)" >1,93</text>
<text x="1056.40" y="400.00" font-size="16.6" font-weight="normal" text-anchor="middle" fill="#111" transform="rotate(-90 1056.40 400.00)" >15</text>
<text x="1056.40" y="462.50" font-size="16.6" font-weight="normal" text-anchor="middle" fill="#111" transform="rotate(-90 1056.40 462.50)" >30</text>
<text x="1056.40" y="545.00" font-size="16.6" font-weight="normal" text-anchor="middle" fill="#111" transform="rotate(-90 1056.40 545.00)" >2,96<tspan font-size="11" dy="-4.0">5</tspan></text>
<text x="1056.40" y="616.00" font-size="16.6" font-weight="normal" text-anchor="middle" fill="#111" transform="rotate(-90 1056.40 616.00)" >7<tspan font-size="11" dy="-4.0">5</tspan></text>
<text x="1056.40" y="721.00" font-size="16.6" font-weight="normal" text-anchor="middle" fill="#111" transform="rotate(-90 1056.40 721.00)" >2,96<tspan font-size="11" dy="-4.0">5</tspan></text>
<text x="1056.40" y="792.50" font-size="16.6" font-weight="normal" text-anchor="middle" fill="#111" transform="rotate(-90 1056.40 792.50)" >30</text>
<text x="1056.40" y="852.50" font-size="16.6" font-weight="normal" text-anchor="middle" fill="#111" transform="rotate(-90 1056.40 852.50)" >15</text>
<text x="1056.40" y="917.50" font-size="16.6" font-weight="normal" text-anchor="middle" fill="#111" transform="rotate(-90 1056.40 917.50)" >2,61</text>
<text x="1056.40" y="977.50" font-size="16.6" font-weight="normal" text-anchor="middle" fill="#111" transform="rotate(-90 1056.40 977.50)" >14</text>
<text x="1056.40" y="1025.50" font-size="16.6" font-weight="normal" text-anchor="middle" fill="#111" transform="rotate(-90 1056.40 1025.50)" >10</text>
<text x="1097.70" y="629.00" font-size="16.6" font-weight="normal" text-anchor="middle" fill="#111" transform="rotate(-90 1097.70 629.00)" >6,90</text>
<text x="1097.70" y="923.00" font-size="16.6" font-weight="normal" text-anchor="middle" fill="#111" transform="rotate(-90 1097.70 923.00)" >2,85</text>
<text x="970.00" y="530.00" font-size="16.6" font-weight="normal" text-anchor="start" fill="#111" >120</text>
<text x="970.00" y="553.75" font-size="16.6" font-weight="normal" text-anchor="start" fill="#111" >120</text>
<text x="970.00" y="714.50" font-size="16.6" font-weight="normal" text-anchor="start" fill="#111" >120</text>
<text x="970.00" y="738.75" font-size="16.6" font-weight="normal" text-anchor="start" fill="#111" >120</text>
<text x="424.25" y="1138.60" font-size="16.6" font-weight="normal" text-anchor="middle" fill="#111" >3,30</text>
<text x="508.75" y="1138.60" font-size="16.6" font-weight="normal" text-anchor="start" fill="#111" >30</text>
<text x="552.50" y="1124.00" font-size="16.6" font-weight="normal" text-anchor="start" fill="#111" >30</text>
<text x="585.00" y="1138.60" font-size="16.6" font-weight="normal" text-anchor="start" fill="#111" >1,08<tspan font-size="11" dy="-4.0">5</tspan></text>
<text x="667.50" y="1138.60" font-size="16.6" font-weight="normal" text-anchor="middle" fill="#111" >1,00</text>
<text x="768.00" y="1138.60" font-size="16.6" font-weight="normal" text-anchor="start" fill="#111" >3,91<tspan font-size="11" dy="-4.0">5</tspan></text>
<text x="388.75" y="1175.60" font-size="16.6" font-weight="normal" text-anchor="middle" fill="#111" >1,80</text>
<text x="470.00" y="1175.60" font-size="16.6" font-weight="normal" text-anchor="middle" fill="#111" >90</text>
<text x="553.75" y="1175.60" font-size="16.6" font-weight="normal" text-anchor="start" fill="#111" >2,47<tspan font-size="11" dy="-4.0">5</tspan></text>
<text x="772.00" y="1175.60" font-size="16.6" font-weight="normal" text-anchor="start" fill="#111" >4,72<tspan font-size="11" dy="-4.0">5</tspan></text>
<text x="442.50" y="1209.10" font-size="16.6" font-weight="normal" text-anchor="middle" fill="#111" >3,90</text>
<text x="546.00" y="1209.10" font-size="16.6" font-weight="normal" text-anchor="start" fill="#111" >10</text>
<text x="593.75" y="1209.10" font-size="16.6" font-weight="normal" text-anchor="start" fill="#111" >14</text>
<text x="666.25" y="1209.10" font-size="16.6" font-weight="normal" text-anchor="middle" fill="#111" >2,69</text>
<text x="724.50" y="1209.10" font-size="16.6" font-weight="normal" text-anchor="start" fill="#111" >14</text>
<text x="828.75" y="1209.10" font-size="16.6" font-weight="normal" text-anchor="middle" fill="#111" >2,69</text>
<text x="896.30" y="1209.10" font-size="16.6" font-weight="normal" text-anchor="start" fill="#111" >14</text>
<text x="943.40" y="1209.10" font-size="16.6" font-weight="normal" text-anchor="start" fill="#111" >10</text>
<text x="308.75" y="1246.10" font-size="16.6" font-weight="normal" text-anchor="start" fill="#111" >15</text>
<text x="368.75" y="1246.10" font-size="16.6" font-weight="normal" text-anchor="start" fill="#111" >30</text>
<text x="482.50" y="1246.10" font-size="16.6" font-weight="normal" text-anchor="middle" fill="#111" >3,95</text>
<text x="578.75" y="1246.10" font-size="16.6" font-weight="normal" text-anchor="start" fill="#111" >7<tspan font-size="11" dy="-4.0">5</tspan></text>
<text x="648.00" y="1246.10" font-size="16.6" font-weight="normal" text-anchor="middle" fill="#111" >1,40</text>
<text x="702.50" y="1246.10" font-size="16.6" font-weight="normal" text-anchor="start" fill="#111" >7<tspan font-size="11" dy="-4.0">5</tspan></text>
<text x="798.75" y="1246.10" font-size="16.6" font-weight="normal" text-anchor="middle" fill="#111" >3,50</text>
<text x="881.50" y="1246.10" font-size="16.6" font-weight="normal" text-anchor="start" fill="#111" >30</text>
<text x="943.40" y="1246.10" font-size="16.6" font-weight="normal" text-anchor="start" fill="#111" >15</text>
<text x="451.75" y="1280.60" font-size="16.6" font-weight="normal" text-anchor="middle" fill="#111" >3,90</text>
<text x="752.00" y="1280.60" font-size="16.6" font-weight="normal" text-anchor="middle" fill="#111" >6,00</text>
<text x="539.60" y="1331.70" font-size="24.75" font-weight="bold" text-anchor="start" fill="#111" >ALAPRAJZ M=1:100</text>
<text x="450.00" y="503.75" font-size="16.55" font-weight="bold" text-anchor="middle" fill="#111" >Konyha</text>
<text x="450.00" y="524.25" font-size="16.6" font-weight="normal" text-anchor="middle" fill="#111" >máz. kerámia</text>
<text x="450.00" y="545.00" font-size="16.6" font-weight="normal" text-anchor="middle" fill="#111" >a= 5,50 m<tspan font-size="11" dy="-4.0">2</tspan></text>
<text x="479.70" y="648.50" font-size="24.8" font-weight="bold" text-anchor="middle" fill="#111" >Nappali</text>
<text x="480.00" y="670.80" font-size="16.6" font-weight="normal" text-anchor="middle" fill="#111" >máz. kerámia</text>
<text x="480.00" y="690.00" font-size="16.6" font-weight="normal" text-anchor="middle" fill="#111" >a= 18,42 m<tspan font-size="11" dy="-4.0">2</tspan></text>
<text x="627.50" y="517.50" font-size="16.55" font-weight="bold" text-anchor="middle" fill="#111" >Fürdő</text>
<text x="627.00" y="539.00" font-size="16.6" font-weight="normal" text-anchor="middle" fill="#111" >máz. kerámia</text>
<text x="627.50" y="558.60" font-size="16.6" font-weight="normal" text-anchor="middle" fill="#111" >a= 4,96 m<tspan font-size="11" dy="-4.0">2</tspan></text>
<text x="768.00" y="511.25" font-size="16.55" font-weight="bold" text-anchor="middle" fill="#111" >Háló</text>
<text x="767.50" y="531.25" font-size="16.6" font-weight="normal" text-anchor="middle" fill="#111" >lam. padló</text>
<text x="768.00" y="551.25" font-size="16.6" font-weight="normal" text-anchor="middle" fill="#111" >a= 10,37 m<tspan font-size="11" dy="-4.0">2</tspan></text>
<text x="762.40" y="735.30" font-size="16.55" font-weight="bold" text-anchor="middle" fill="#111" >Háló</text>
<text x="762.50" y="754.90" font-size="16.6" font-weight="normal" text-anchor="middle" fill="#111" >lam. padló</text>
<text x="762.40" y="775.50" font-size="16.6" font-weight="normal" text-anchor="middle" fill="#111" >a= 10,37 m<tspan font-size="11" dy="-4.0">2</tspan></text>
<text x="647.40" y="722.30" font-size="16.55" font-weight="bold" text-anchor="middle" fill="#111" >Szélfogó</text>
<text x="647.30" y="741.60" font-size="16.6" font-weight="normal" text-anchor="middle" fill="#111" >m.ker</text>
<text x="647.30" y="763.20" font-size="16.6" font-weight="normal" text-anchor="middle" fill="#111" >a= 2,80 m<tspan font-size="11" dy="-4.0">2</tspan></text>
<text x="708.00" y="912.50" font-size="16.55" font-weight="bold" text-anchor="middle" fill="#111" >Fedett terasz</text>
<text x="708.00" y="932.50" font-size="16.6" font-weight="normal" text-anchor="middle" fill="#111" >fagyálló kerámia</text>
<text x="708.00" y="952.50" font-size="16.6" font-weight="normal" text-anchor="middle" fill="#111" >a= 17,04 m<tspan font-size="11" dy="-4.0">2</tspan></text>
<text x="390.80" y="534.30" font-size="16.6" font-weight="normal" text-anchor="middle" fill="#111" transform="rotate(-90 390.80 534.30)" >pm 30</text>
<text x="390.80" y="628.70" font-size="16.6" font-weight="normal" text-anchor="middle" fill="#111" transform="rotate(-90 390.80 628.70)" >pm 30</text>
<text x="390.80" y="721.90" font-size="16.6" font-weight="normal" text-anchor="middle" fill="#111" transform="rotate(-90 390.80 721.90)" >pm 30</text>
<text x="420.75" y="788.75" font-size="16.6" font-weight="normal" text-anchor="start" fill="#111" >pm 30</text>
<text x="475.00" y="788.75" font-size="16.6" font-weight="normal" text-anchor="start" fill="#111" >pm 30</text>
<text x="888.00" y="537.50" font-size="16.6" font-weight="normal" text-anchor="middle" fill="#111" transform="rotate(-90 888.00 537.50)" >pm 90</text>
<text x="888.00" y="721.60" font-size="16.6" font-weight="normal" text-anchor="middle" fill="#111" transform="rotate(-90 888.00 721.60)" >pm 90</text>
<text x="555.00" y="727.50" font-size="16.6" font-weight="normal" text-anchor="start" fill="#111" >±0,00</text>
<text x="609.30" y="592.50" font-size="16.6" font-weight="normal" text-anchor="middle" fill="#111" transform="rotate(-90 609.30 592.50)" >90</text>
<text x="633.30" y="587.90" font-size="16.6" font-weight="normal" text-anchor="middle" fill="#111" transform="rotate(-90 633.30 587.90)" >210</text>
<text x="637.50" y="613.50" font-size="16.6" font-weight="normal" text-anchor="start" fill="#111" >1,25</text>
<text x="717.50" y="592.30" font-size="16.6" font-weight="normal" text-anchor="start" fill="#111" >90</text>
<text x="708.75" y="616.50" font-size="16.6" font-weight="normal" text-anchor="start" fill="#111" >210</text>
<text x="717.50" y="651.80" font-size="16.6" font-weight="normal" text-anchor="start" fill="#111" >90</text>
<text x="708.75" y="675.30" font-size="16.6" font-weight="normal" text-anchor="start" fill="#111" >210</text>
<text x="642.30" y="863.00" font-size="16.6" font-weight="normal" text-anchor="middle" fill="#111" transform="rotate(-90 642.30 863.00)" >140</text>
<text x="667.30" y="863.50" font-size="16.6" font-weight="normal" text-anchor="middle" fill="#111" transform="rotate(-90 667.30 863.50)" >210</text>
<text x="437.30" y="888.80" font-size="16.6" font-weight="normal" text-anchor="middle" fill="#111" transform="rotate(-90 437.30 888.80)" >60</text>
<text x="462.20" y="884.00" font-size="16.6" font-weight="normal" text-anchor="middle" fill="#111" transform="rotate(-90 462.20 884.00)" >180</text>
<text x="492.30" y="888.80" font-size="16.6" font-weight="normal" text-anchor="middle" fill="#111" transform="rotate(-90 492.30 888.80)" >60</text>
<text x="516.50" y="884.00" font-size="16.6" font-weight="normal" text-anchor="middle" fill="#111" transform="rotate(-90 516.50 884.00)" >180</text>
<text x="301.25" y="932.50" font-size="16.6" font-weight="normal" text-anchor="start" fill="#111" >-0,49</text>
<text x="885.00" y="917.50" font-size="16.6" font-weight="normal" text-anchor="start" fill="#111" >-0,02</text>
<text x="1012.00" y="1058.75" font-size="16.6" font-weight="normal" text-anchor="start" fill="#111" >-0,49</text>
<text x="219.50" y="404.00" font-size="14.25" font-weight="normal" text-anchor="start" fill="#111" >csapadékvízelvezetés</text>
<text x="220.00" y="860.00" font-size="14.25" font-weight="normal" text-anchor="start" fill="#111" >csapadékvízelvezetés</text>
<text x="954.50" y="344.50" font-size="14.25" font-weight="normal" text-anchor="middle" fill="#111" transform="rotate(-90 954.50 344.50)" >csapadékvízelvezetés</text>
<text x="981.50" y="943.80" font-size="14.25" font-weight="normal" text-anchor="middle" fill="#111" transform="rotate(-90 981.50 943.80)" >csapadékvízelvezetés</text>
<line x1="843.30" y1="337.50" x2="843.30" y2="1108.00" stroke="#000" stroke-width="2.5" stroke-dasharray="20 10.3 0.01 10.34" stroke-linecap="round"/>
<line x1="843.50" y1="1110.00" x2="843.50" y2="1139.50" stroke="#000" stroke-width="2.5" stroke-linecap="round"/>
<line x1="770.40" y1="336.40" x2="832.40" y2="336.40" stroke="#000" stroke-width="2.6" stroke-linecap="round"/>
<line x1="771.30" y1="1141.00" x2="833.70" y2="1141.00" stroke="#000" stroke-width="2.6" stroke-linecap="round"/>
<circle cx="843.6" cy="1140.2" r="1.8" fill="#000"/>
<circle cx="843.3" cy="336.4" r="1.6" fill="#000"/>
<line x1="225.70" y1="700.30" x2="1045.00" y2="700.30" stroke="#000" stroke-width="2.5" stroke-dasharray="20 10.3 0.01 10.34" stroke-linecap="round"/>
<line x1="225.30" y1="627.20" x2="225.30" y2="688.30" stroke="#000" stroke-width="2.6" stroke-linecap="round"/>
<line x1="1044.50" y1="627.50" x2="1044.50" y2="687.50" stroke="#000" stroke-width="2.6" stroke-linecap="round"/>
<text x="206.50" y="688.30" font-size="25.5" font-weight="normal" text-anchor="end" fill="#111" >B</text>
<text x="1063.50" y="688.30" font-size="25.5" font-weight="normal" text-anchor="start" fill="#111" >B</text>
<text x="831.50" y="310.50" font-size="25.5" font-weight="normal" text-anchor="middle" fill="#111" transform="rotate(-90 831.50 310.50)" >A</text>
<text x="832.00" y="1168.70" font-size="25.5" font-weight="normal" text-anchor="middle" fill="#111" transform="rotate(-90 832.00 1168.70)" >A</text>
<path d="M 260.0 371.0 L 260.0 362.0 A 9.0 9.0 0 0 1 269.0 371.0 Z M 260.0 371.0 L 260.0 380.0 A 9.0 9.0 0 0 1 251.0 371.0 Z" fill="#000"/>
<circle cx="260.0" cy="371.0" r="9.0" fill="none" stroke="#000" stroke-width="1.4"/>
<line x1="241.50" y1="371.00" x2="278.50" y2="371.00" stroke="#333" stroke-width="1.3" />
<line x1="260.00" y1="352.50" x2="260.00" y2="389.50" stroke="#333" stroke-width="1.3" />
<path d="M 996.3 372.5 L 996.3 363.5 A 9.0 9.0 0 0 1 1005.3 372.5 Z M 996.3 372.5 L 996.3 381.5 A 9.0 9.0 0 0 1 987.3 372.5 Z" fill="#000"/>
<circle cx="996.3" cy="372.5" r="9.0" fill="none" stroke="#000" stroke-width="1.4"/>
<line x1="977.80" y1="372.50" x2="1014.80" y2="372.50" stroke="#333" stroke-width="1.3" />
<line x1="996.30" y1="354.00" x2="996.30" y2="391.00" stroke="#333" stroke-width="1.3" />
<path d="M 282.5 950.0 L 282.5 941.0 A 9.0 9.0 0 0 1 291.5 950.0 Z M 282.5 950.0 L 282.5 959.0 A 9.0 9.0 0 0 1 273.5 950.0 Z" fill="#000"/>
<circle cx="282.5" cy="950.0" r="9.0" fill="none" stroke="#000" stroke-width="1.4"/>
<line x1="264.00" y1="950.00" x2="301.00" y2="950.00" stroke="#333" stroke-width="1.3" />
<line x1="282.50" y1="931.50" x2="282.50" y2="968.50" stroke="#333" stroke-width="1.3" />
<path d="M 537.0 745.4 L 537.0 736.4 A 9.0 9.0 0 0 1 546.0 745.4 Z M 537.0 745.4 L 537.0 754.4 A 9.0 9.0 0 0 1 528.0 745.4 Z" fill="#000"/>
<circle cx="537.0" cy="745.4" r="9.0" fill="none" stroke="#000" stroke-width="1.4"/>
<line x1="518.50" y1="745.40" x2="555.50" y2="745.40" stroke="#333" stroke-width="1.3" />
<line x1="537.00" y1="726.90" x2="537.00" y2="763.90" stroke="#333" stroke-width="1.3" />
<path d="M 866.3 935.0 L 866.3 926.0 A 9.0 9.0 0 0 1 875.3 935.0 Z M 866.3 935.0 L 866.3 944.0 A 9.0 9.0 0 0 1 857.3 935.0 Z" fill="#000"/>
<circle cx="866.3" cy="935.0" r="9.0" fill="none" stroke="#000" stroke-width="1.4"/>
<line x1="847.80" y1="935.00" x2="884.80" y2="935.00" stroke="#333" stroke-width="1.3" />
<line x1="866.30" y1="916.50" x2="866.30" y2="953.50" stroke="#333" stroke-width="1.3" />
<path d="M 992.5 1077.5 L 992.5 1068.5 A 9.0 9.0 0 0 1 1001.5 1077.5 Z M 992.5 1077.5 L 992.5 1086.5 A 9.0 9.0 0 0 1 983.5 1077.5 Z" fill="#000"/>
<circle cx="992.5" cy="1077.5" r="9.0" fill="none" stroke="#000" stroke-width="1.4"/>
<line x1="974.00" y1="1077.50" x2="1011.00" y2="1077.50" stroke="#333" stroke-width="1.3" />
<line x1="992.50" y1="1059.00" x2="992.50" y2="1096.00" stroke="#333" stroke-width="1.3" />
<circle cx="1094.0" cy="267.0" r="60.6" fill="none" stroke="#000" stroke-width="2.3"/>
<line x1="1101.20" y1="207.50" x2="1095.30" y2="267.40" stroke="#000" stroke-width="4.4" />
<line x1="1095.30" y1="267.40" x2="1088.80" y2="327.60" stroke="#000" stroke-width="2.3" />
<line x1="1033.40" y1="261.70" x2="1154.00" y2="272.30" stroke="#000" stroke-width="2.3" />
<text x="1101.00" y="188.00" font-size="70" font-weight="normal" text-anchor="middle" fill="#000" transform="rotate(5.8 1101 165)">N</text>
<polyline points="243.00,405.60 219.00,411.20 242.00,417.40" fill="none" stroke="#000" stroke-width="1.5" />
<line x1="226.70" y1="411.20" x2="337.60" y2="411.20" stroke="#000" stroke-width="1.2" stroke-dasharray="5.9 3.3"/>
<circle cx="340.5" cy="411.2" r="2.7" fill="#fff" stroke="#000" stroke-width="1.1"/>
<circle cx="340.5" cy="411.2" r="0.8" fill="#000"/>
<polyline points="925.80,308.70 930.70,286.40 936.70,308.70" fill="none" stroke="#000" stroke-width="1.5" />
<line x1="930.70" y1="292.00" x2="930.70" y2="408.50" stroke="#000" stroke-width="1.2" stroke-dasharray="5.9 3.3"/>
<circle cx="931.0" cy="411.3" r="2.7" fill="#fff" stroke="#000" stroke-width="1.1"/>
<circle cx="931.0" cy="411.3" r="0.8" fill="#000"/>
<polyline points="232.10,836.20 210.80,841.90 233.40,848.00" fill="none" stroke="#000" stroke-width="1.5" />
<line x1="218.00" y1="841.90" x2="334.20" y2="841.90" stroke="#000" stroke-width="1.2" stroke-dasharray="5.9 3.3"/>
<circle cx="337.0" cy="841.9" r="2.7" fill="#fff" stroke="#000" stroke-width="1.1"/>
<circle cx="337.0" cy="841.9" r="0.8" fill="#000"/>
<polyline points="954.20,880.00 960.00,856.30 965.80,880.00" fill="none" stroke="#000" stroke-width="1.5" />
<line x1="960.00" y1="862.00" x2="960.00" y2="1013.80" stroke="#000" stroke-width="1.2" stroke-dasharray="5.9 3.3"/>
<line x1="927.80" y1="1013.80" x2="960.00" y2="1013.80" stroke="#000" stroke-width="1.2" stroke-dasharray="5.9 3.3"/>
<circle cx="925.0" cy="1013.8" r="2.7" fill="#fff" stroke="#000" stroke-width="1.1"/>
<circle cx="925.0" cy="1013.8" r="0.8" fill="#000"/>
</svg></body></html>
